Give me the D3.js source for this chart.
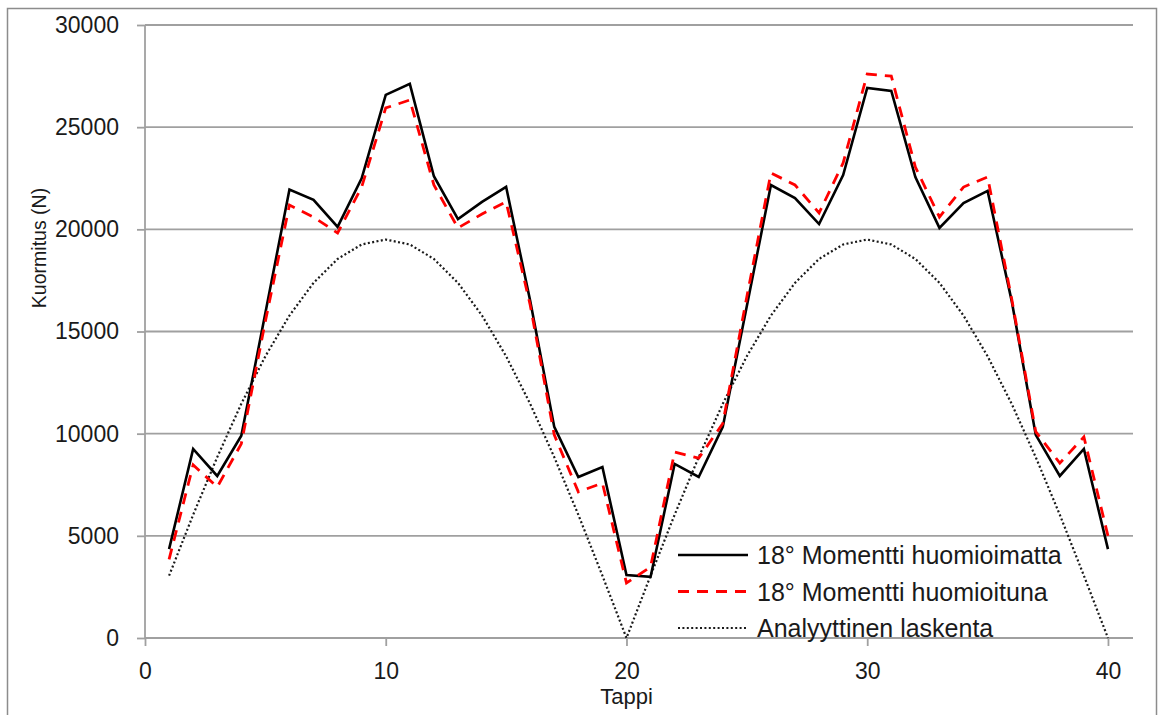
<!DOCTYPE html>
<html>
<head>
<meta charset="utf-8">
<script src="https://cdn.jsdelivr.net/npm/d3@7"></script>
<style>
    body { margin: 0; background: #fff; }
    text { font-family: "Liberation Sans", Arial, sans-serif; fill: #1a1a1a; }
</style>
</head>
<body>
<div id="chart"></div>
<script>
// data
let tappi = [1, 2, 3, 4, 5, 6, 7, 8, 9, 10, 11, 12, 13, 14, 15, 16, 17, 18, 19, 20,
             21, 22, 23, 24, 25, 26, 27, 28, 29, 30, 31, 32, 33, 34, 35, 36, 37, 38, 39, 40];
let huomioimatta = [4350, 9250, 7930, 9900, 15900, 21950, 21440, 20120, 22500, 26580,
                    27120, 22600, 20500, 21340, 22080, 16500, 10330, 7880, 8370, 3080,
                    2990, 8520, 7880, 10330, 16250, 22170, 21530, 20260, 22660, 26920,
                    26770, 22560, 20070, 21290, 21880, 16500, 9940, 7930, 9250, 4350];
let huomioituna = [3850, 8470, 7390, 9500, 15500, 21190, 20600, 19820, 22070, 25940,
                   26330, 22170, 20070, 20750, 21340, 16300, 9940, 7150, 7580, 2690,
                   3480, 9100, 8800, 10500, 16700, 22760, 22170, 20800, 23250, 27600,
                   27500, 23050, 20600, 22070, 22560, 16600, 10100, 8560, 9840, 5000];
let analyyttinen = [3050, 6030, 8850, 11460, 13790, 15780, 17380, 18550, 19260, 19500,
                    19260, 18550, 17380, 15780, 13790, 11460, 8850, 6030, 3050, 0,
                    3050, 6030, 8850, 11460, 13790, 15780, 17380, 18550, 19260, 19500,
                    19260, 18550, 17380, 15780, 13790, 11460, 8850, 6030, 3050, 0];
let xTicks = [0, 10, 20, 30, 40];
let yTicks = [0, 5000, 10000, 15000, 20000, 25000, 30000];
let seriesNames = ["18° Momentti huomioimatta", "18° Momentti huomioituna", "Analyyttinen laskenta"];

let W = 1160, H = 715;
let margin = {top: 25, right: 27, left: 145, bottom: 77};

let svg = d3.select("#chart")
    .append("svg")
    .attr("width", W)
    .attr("height", H);

// outer chart border
svg.append("rect")
    .attr("x", 7.5)
    .attr("y", 8.5)
    .attr("width", 1149)
    .attr("height", 730)
    .attr("fill", "none")
    .attr("stroke", "#8c8c8c")
    .attr("stroke-width", 1.5);

let xScale = d3.scaleLinear().domain([0, 41.04]).range([margin.left, W - margin.right]);
let yScale = d3.scaleLinear().domain([0, 30000]).range([H - margin.bottom, margin.top]);

// y axis ticks + labels
let yAxis = d3.axisLeft(yScale).tickValues(yTicks).tickSize(8).tickPadding(18).tickFormat(d3.format("d"));
let yG = svg.append("g")
    .attr("transform", "translate(" + margin.left + ",0)")
    .call(yAxis);
yG.selectAll(".tick line").attr("stroke", "#a0a0a0").attr("stroke-width", 1.8);
yG.select(".domain").remove();
yG.selectAll(".tick text").attr("font-size", 23).attr("fill", "#1a1a1a").attr("font-family", "Liberation Sans");

// horizontal gridlines
svg.append("g")
    .selectAll("line")
    .data(yTicks)
    .enter()
    .append("line")
    .attr("x1", margin.left)
    .attr("x2", W - margin.right)
    .attr("y1", d => yScale(d))
    .attr("y2", d => yScale(d))
    .attr("stroke", "#a0a0a0")
    .attr("stroke-width", 1.8);

svg.append("line")
    .attr("x1", margin.left)
    .attr("x2", margin.left)
    .attr("y1", yScale(0))
    .attr("y2", yScale(30000))
    .attr("stroke", "#a0a0a0")
    .attr("stroke-width", 1.8);

// x axis ticks + labels
let xAxis = d3.axisBottom(xScale).tickValues(xTicks).tickSize(8).tickPadding(17).tickFormat(d3.format("d"));
let xG = svg.append("g")
    .attr("transform", "translate(0," + yScale(0) + ")")
    .call(xAxis);
xG.select(".domain").remove();
xG.selectAll(".tick line").attr("stroke", "#a0a0a0").attr("stroke-width", 1.8);
xG.selectAll(".tick text").attr("font-size", 23).attr("fill", "#1a1a1a").attr("font-family", "Liberation Sans");

// axis titles
svg.append("text")
    .attr("x", xScale(20))
    .attr("y", 704)
    .attr("text-anchor", "middle")
    .attr("font-size", 22)
    .text("Tappi");

svg.append("text")
    .attr("transform", "translate(46,248) rotate(-90)")
    .attr("text-anchor", "middle")
    .attr("font-size", 19.5)
    .text("Kuormitus (N)");

// lines
let line = d3.line()
    .x((d, i) => xScale(tappi[i]))
    .y(d => yScale(d));

svg.append("path")
    .datum(analyyttinen)
    .attr("d", line)
    .attr("fill", "none")
    .attr("stroke", "#1a1a1a")
    .attr("stroke-width", 2.2)
    .attr("stroke-dasharray", "2,2.4");

svg.append("path")
    .datum(huomioimatta)
    .attr("d", line)
    .attr("fill", "none")
    .attr("stroke", "#000")
    .attr("stroke-width", 2.6)
    .attr("stroke-linejoin", "miter");

svg.append("path")
    .datum(huomioituna)
    .attr("d", line)
    .attr("fill", "none")
    .attr("stroke", "#ff0000")
    .attr("stroke-width", 2.8)
    .attr("stroke-dasharray", "11,8");

// legend
let legendStyles = [
    {stroke: "#000", width: 2.6, dash: null},
    {stroke: "#ff0000", width: 2.8, dash: "11,8"},
    {stroke: "#1a1a1a", width: 2.2, dash: "2,2.4"}
];
let legend = svg.append("g");
seriesNames.forEach((name, i) => {
    let y = 555 + i * 36.5;
    legend.append("line")
        .attr("x1", 678)
        .attr("x2", 748)
        .attr("y1", y)
        .attr("y2", y)
        .attr("stroke", legendStyles[i].stroke)
        .attr("stroke-width", legendStyles[i].width)
        .attr("stroke-dasharray", legendStyles[i].dash);
    legend.append("text")
        .attr("x", 757)
        .attr("y", y + 9)
        .attr("font-size", 25)
        .text(name);
});
</script>
</body>
</html>
